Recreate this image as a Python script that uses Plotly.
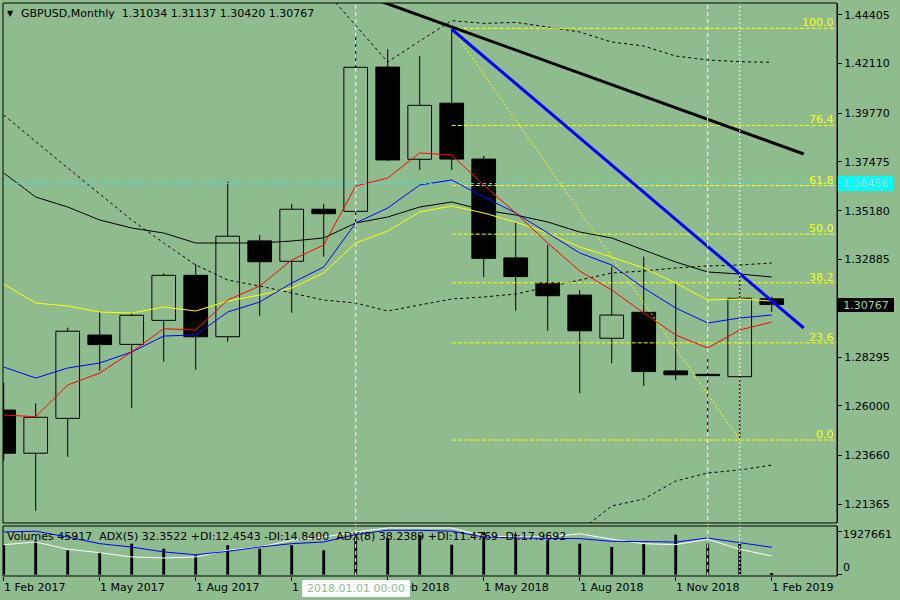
"""GBPUSD monthly chart with MAs, bands, Fibonacci levels and a volume/ADX pane."""

from __future__ import annotations

import plotly.graph_objects as go

# --------------------------------------------------------------------------- #
# Data (monthly bars, Feb 2017 .. Feb 2019)
# --------------------------------------------------------------------------- #
MONTHS = [
    "2017-02", "2017-03", "2017-04", "2017-05", "2017-06", "2017-07", "2017-08",
    "2017-09", "2017-10", "2017-11", "2017-12", "2018-01", "2018-02", "2018-03",
    "2018-04", "2018-05", "2018-06", "2018-07", "2018-08", "2018-09", "2018-10",
    "2018-11", "2018-12", "2019-01", "2019-02",
]
OPEN = [1.2580, 1.2377, 1.2541, 1.2933, 1.2889, 1.3002, 1.3214, 1.2925, 1.3376,
        1.3280, 1.3525, 1.3515, 1.4194, 1.3760, 1.4024, 1.3761, 1.3296, 1.3179,
        1.3121, 1.2918, 1.3040, 1.2764, 1.2748, 1.2737, 1.31034]
HIGH = [1.2707, 1.2612, 1.2968, 1.3043, 1.3037, 1.3224, 1.3266, 1.3655, 1.3404,
        1.3550, 1.3550, 1.4345, 1.4278, 1.4246, 1.43765, 1.3776, 1.3462, 1.3357,
        1.3145, 1.3255, 1.3302, 1.3178, 1.2839, 1.3224, 1.31137]
LOW = [1.2342, 1.2106, 1.2360, 1.2765, 1.2588, 1.2808, 1.2769, 1.2902, 1.3024,
       1.3038, 1.3302, 1.3460, 1.3752, 1.3710, 1.3710, 1.3205, 1.3048, 1.2953,
       1.2659, 1.2800, 1.2693, 1.2721, 1.2473, 1.2439, 1.30420]
CLOSE = [1.2377, 1.2546, 1.2951, 1.2888, 1.3026, 1.3214, 1.2925, 1.3398, 1.3278,
         1.3525, 1.3504, 1.4193, 1.3757, 1.4014, 1.3761, 1.3294, 1.3208, 1.3118,
         1.2953, 1.3027, 1.2761, 1.2746, 1.2742, 1.3106, 1.30767]

MA_RED = [1.25567, 1.25487, 1.26979, 1.27543, 1.28532, 1.29628, 1.29567, 1.30979,
          1.31638, 1.32861, 1.33567, 1.36344, 1.36720, 1.37897, 1.37802, 1.36391,
          1.35073, 1.33661, 1.32344, 1.31449, 1.30367, 1.29332, 1.28720, 1.29567,
          1.29943]
MA_BLUE = [1.27826, 1.27308, 1.27779, 1.28014, 1.28532, 1.29285, 1.29332, 1.30414,
           1.30885, 1.31779, 1.32532, 1.34602, 1.35308, 1.36391, 1.36626, 1.35826,
           1.35073, 1.34132, 1.33191, 1.32626, 1.31543, 1.30602, 1.29896, 1.30132,
           1.30273]
MA_YELLOW = [1.31732, 1.30838, 1.30696, 1.30414, 1.30367, 1.30649, 1.30461, 1.30932,
             1.31214, 1.31543, 1.32249, 1.33661, 1.34226, 1.35120, 1.35402, 1.35073,
             1.34649, 1.34132, 1.33473, 1.33002, 1.32485, 1.31779, 1.30979, 1.31026,
             1.30932]
MA_BLACK = [1.36955, 1.35826, 1.35355, 1.34744, 1.34367, 1.34132, 1.33661, 1.33661,
            1.33661, 1.33755, 1.33897, 1.34602, 1.34885, 1.35355, 1.35591, 1.35214,
            1.34979, 1.34649, 1.34179, 1.33897, 1.33332, 1.32767, 1.32297, 1.32202,
            1.32061]

# dashed bands: (month index, price)
BAND_MID_X = list(range(25))
BAND_MID = [1.39685, 1.38424, 1.37191, 1.35967, 1.34744, 1.33661, 1.32626, 1.31920,
            1.31638, 1.31308, 1.30979, 1.30838, 1.30461, 1.30744, 1.31026, 1.31120,
            1.31261, 1.31591, 1.31920, 1.32249, 1.32344, 1.32485, 1.32579, 1.32626,
            1.32720]
BAND_UP_X = list(range(10, 25))
BAND_UP = [1.45610, 1.43887, 1.42179, 1.43167, 1.44123, 1.43997, 1.44044, 1.43826,
           1.43591, 1.43120, 1.42932, 1.42461, 1.42273, 1.42193, 1.42165]
BAND_LOW_X = list(range(18, 25))
BAND_LOW = [1.20108, 1.21285, 1.21614, 1.22461, 1.22837, 1.22979, 1.23214]

# volume pane
VOLUME = [1341000, 1553000, 1102000, 1025000, 1399000, 1174000, 876000, 1327000,
          1174000, 1327000, 1102000, 1702000, 1657000, 1779000, 1354000, 1927661,
          1806000, 1553000, 1399000, 1250000, 1399000, 1806000, 1399000, 1399000,
          45917]
ADX_WHITE = [40.0, 41.8, 36.9, 34.6, 31.7, 31.0, 31.7, 36.2, 38.4, 43.0, 45.2, 48.6,
             51.3, 51.3, 51.3, 45.9, 45.2, 45.2, 47.4, 43.7, 40.7, 40.0, 43.7, 36.9,
             32.35]
ADX_BLUE = [48.6, 49.1, 45.2, 40.7, 38.4, 35.1, 33.2, 35.5, 38.4, 40.7, 41.8, 46.8,
            49.75, 49.75, 49.1, 45.2, 44.5, 44.5, 44.1, 42.3, 41.8, 41.8, 44.5, 41.4,
            38.24]

# drawn objects
TREND_BLUE_X = [14, 25]
TREND_BLUE_Y = [1.4372, 1.29661]
TREND_BLACK_X = [11, 25]
TREND_BLACK_Y = [1.4546, 1.3785]
FIB_ANCHOR_X = [14, 23]
FIB_ANCHOR_Y = [1.43765, 1.2439]
FIB_LABELS = ["100.0", "76.4", "61.8", "50.0", "38.2", "23.6", "0.0"]
FIB_PRICES = [1.43765, 1.39193, 1.36364, 1.34078, 1.31791, 1.28963, 1.24390]
VLINES = [11, 22, 23]
CROSS_PRICE = 1.36456
LAST_PRICE = 1.30767

PRICE_TICKS = [1.44405, 1.42110, 1.39770, 1.37475, 1.35180, 1.32885, 1.30590,
               1.28295, 1.26000, 1.23660, 1.21365]
DATE_TICKS = [0, 3, 6, 9, 12, 15, 18, 21, 24]
DATE_LABELS = ["1 Feb 2017", "1 May 2017", "1 Aug 2017", "1 Nov 2017", "1 Feb 2018",
               "1 May 2018", "1 Aug 2018", "1 Nov 2018", "1 Feb 2019"]
VOL_TOP_LABEL = 1927661

# --------------------------------------------------------------------------- #
# Style
# --------------------------------------------------------------------------- #
BG = "#8FBC8F"
FONT = "DejaVu Sans"
X_RANGE = [-0.022, 26.04]
MAIN_DOM = [0.0925, 1.0]
SUB_DOM = [0.0, 0.0873]


def line(x, y, color, width=1, dash="solid", yaxis="y"):
    return go.Scatter(
        x=x, y=y, mode="lines", yaxis=yaxis, hoverinfo="skip", showlegend=False,
        line=dict(color=color, width=width, dash=dash),
    )


def build() -> go.Figure:
    idx = list(range(len(MONTHS)))
    fig = go.Figure()

    # candle bodies
    base = [min(o, c) for o, c in zip(OPEN, CLOSE)]
    height = [max(abs(c - o), 0.00012) for o, c in zip(OPEN, CLOSE)]
    fill = ["black" if c < o else BG for o, c in zip(OPEN, CLOSE)]
    fig.add_trace(go.Bar(
        x=idx, y=height, base=base, width=0.74, hoverinfo="skip", showlegend=False,
        marker=dict(color=fill, line=dict(color="black", width=1)),
    ))

    # wicks (outside the bodies)
    wx, wy = [], []
    for i, o, h, l, c in zip(idx, OPEN, HIGH, LOW, CLOSE):
        wx += [i, i, None, i, i, None]
        wy += [h, max(o, c), None, min(o, c), l, None]
    fig.add_trace(line(wx, wy, "black"))

    # bands
    fig.add_trace(line(BAND_MID_X, BAND_MID, "black", dash="3px,3px"))
    fig.add_trace(line(BAND_UP_X, BAND_UP, "black", dash="3px,3px"))
    fig.add_trace(line(BAND_LOW_X, BAND_LOW, "black", dash="3px,3px"))

    # fibonacci
    for p in FIB_PRICES:
        fig.add_trace(line([FIB_ANCHOR_X[0], X_RANGE[1]], [p, p], "#FFFF00", dash="4px,2px"))
    fig.add_trace(line(FIB_ANCHOR_X, FIB_ANCHOR_Y, "#FFFF00", dash="2px,2px"))

    # moving averages
    fig.add_trace(line(idx, MA_BLACK, "black"))
    fig.add_trace(line(idx, MA_YELLOW, "#FFFF00"))
    fig.add_trace(line(idx, MA_BLUE, "#0000FF"))
    fig.add_trace(line(idx, MA_RED, "#FF0000"))

    # crosshair horizontal
    fig.add_trace(line([X_RANGE[0], X_RANGE[1]], [CROSS_PRICE, CROSS_PRICE], "#00FFFF",
                       dash="3px,3px"))

    # trendlines
    fig.add_trace(line(TREND_BLACK_X, TREND_BLACK_Y, "black", width=3))
    fig.add_trace(line(TREND_BLUE_X, TREND_BLUE_Y, "#0000FF", width=3))

    # volume + ADX pane
    fig.add_trace(go.Bar(
        x=idx, y=VOLUME, width=0.09, yaxis="y2", hoverinfo="skip", showlegend=False,
        marker=dict(color="black", line=dict(width=0)),
    ))
    fig.add_trace(line(idx, ADX_WHITE, "white", yaxis="y3"))
    fig.add_trace(line(idx, ADX_BLUE, "#0000FF", yaxis="y3"))

    # vertical lines across both panes
    for i, v in enumerate(VLINES):
        fig.add_shape(type="line", xref="x", yref="paper", x0=v, x1=v, y0=0, y1=1,
                      line=dict(color="white", width=1,
                                dash="2px,2px" if i == 2 else "4px,3px"))

    # pane borders
    for dom in (MAIN_DOM, SUB_DOM):
        fig.add_shape(type="rect", xref="paper", yref="paper", x0=0, x1=1,
                      y0=dom[0], y1=dom[1], line=dict(color="black", width=1))

    ann = []
    small = dict(family=FONT, size=11, color="black")
    ann.append(dict(text="▼", xref="paper", yref="paper", x=0.0084, y=0.9825,
                    xanchor="center", yanchor="middle", showarrow=False,
                    font=dict(family=FONT, size=8, color="black")))
    ann.append(dict(text="GBPUSD,Monthly  1.31034 1.31137 1.30420 1.30767",
                    xref="paper", yref="paper", x=0.0192, y=0.9825, xanchor="left",
                    yanchor="middle", showarrow=False, font=small))
    ann.append(dict(text="Volumes 45917  ADX(5) 32.3522 +DI:12.4543 -DI:14.8400  "
                         "ADX(8) 38.2389 +DI:11.4769 -DI:17.9692",
                    xref="paper", yref="paper", x=0.0024, y=0.0698, xanchor="left",
                    yanchor="middle", showarrow=False, font=small))
    for lab, p in zip(FIB_LABELS, FIB_PRICES):
        ann.append(dict(text=lab, xref="paper", yref="y", x=1, y=p, xanchor="right",
                        yanchor="bottom", xshift=-1, yshift=-3, showarrow=False,
                        font=dict(family=FONT, size=11, color="#FFFF00")))
    for lab, t in zip(DATE_LABELS, DATE_TICKS):
        ann.append(dict(text=lab, xref="x", yref="paper", x=t, y=-0.0209,
                        xanchor="left", yanchor="middle", xshift=-2, showarrow=False,
                        font=small))
    ann.append(dict(text="2018.01.01 00:00", xref="x", yref="paper", x=VLINES[0],
                    y=-0.0218, xanchor="center", yanchor="middle", showarrow=False,
                    bgcolor="white", bordercolor="white", borderwidth=1, borderpad=1,
                    width=104, height=13, font=dict(family=FONT, size=11, color=BG)))
    ann.append(dict(text=f"{VOL_TOP_LABEL}", xref="paper", yref="paper", x=1,
                    y=0.0716, xanchor="left", yanchor="middle", xshift=4,
                    showarrow=False, font=small))
    ann.append(dict(text="0", xref="paper", yref="paper", x=1, y=0.0140,
                    xanchor="left", yanchor="middle", xshift=4, showarrow=False,
                    font=small))
    ann.append(dict(text=f"{CROSS_PRICE:.5f}", xref="paper", yref="y", x=1,
                    y=CROSS_PRICE, xanchor="left", yanchor="middle", xshift=1,
                    showarrow=False, bgcolor="#00FFFF", bordercolor="#00FFFF",
                    borderwidth=1, borderpad=1, width=51, height=11,
                    font=dict(family=FONT, size=11, color="#a6d8cc")))
    ann.append(dict(text=f"{LAST_PRICE:.5f}", xref="paper", yref="y", x=1,
                    y=LAST_PRICE, xanchor="left", yanchor="middle", xshift=1,
                    showarrow=False, bgcolor="black", bordercolor="black",
                    borderwidth=1, borderpad=1, width=52, height=10,
                    font=dict(family=FONT, size=11, color="#a9d3a9")))

    fig.update_layout(
        width=900, height=600,
        margin=dict(l=3, r=63, t=3, b=24),
        paper_bgcolor=BG, plot_bgcolor=BG,
        barmode="overlay", showlegend=False,
        font=dict(family=FONT, size=11, color="black"),
        annotations=ann,
        xaxis=dict(
            range=X_RANGE, domain=[0, 1], anchor="y2", showgrid=False, zeroline=False,
            tickvals=DATE_TICKS, ticks="outside", ticklen=4, tickcolor="black",
            showticklabels=False, showline=False,
        ),
        yaxis=dict(
            domain=MAIN_DOM, range=[1.20485, 1.449556], side="right", anchor="x",
            showgrid=False, zeroline=False, tickvals=PRICE_TICKS,
            ticktext=[f"{t:.5f}" for t in PRICE_TICKS], ticks="outside", ticklen=4,
            tickcolor="black", showline=True, linecolor="black",
            tickfont=dict(family=FONT, size=11, color="black"),
        ),
        yaxis2=dict(
            domain=SUB_DOM, range=[-58700, 2198000], side="right", anchor="x",
            showgrid=False, zeroline=False, tickvals=[0, VOL_TOP_LABEL],
            ticks="outside", ticklen=4, tickcolor="black", showticklabels=False,
            showline=True, linecolor="black",
        ),
        yaxis3=dict(
            overlaying="y2", range=[18.81, 52.66], visible=False, anchor="x",
        ),
    )
    return fig


def main() -> int:
    fig = build()
    # the page body has a default 8px margin; drop it so the chart fills the window
    fig.write_html(
        "out.html",
        config={"displayModeBar": False},
        post_script="document.body.style.margin='0px';"
                    "document.body.style.background='#8FBC8F';",
    )
    return 0


if __name__ == "__main__":
    raise SystemExit(main())
